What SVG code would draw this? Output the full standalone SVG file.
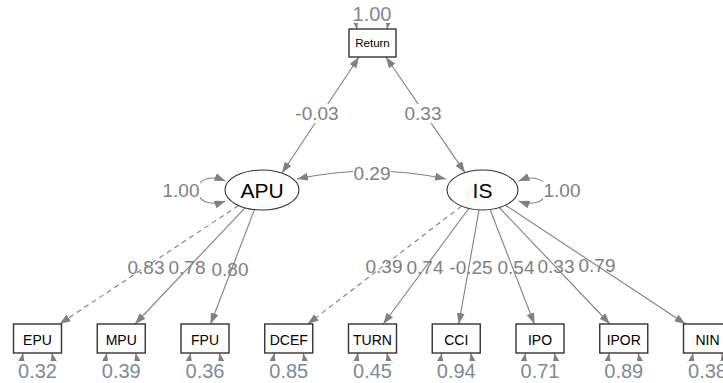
<svg xmlns="http://www.w3.org/2000/svg" width="723" height="383" viewBox="0 0 723 383">
<defs>
<marker id="ah" viewBox="0 0 11 8" refX="11" refY="4" markerWidth="11" markerHeight="8" markerUnits="userSpaceOnUse" orient="auto-start-reverse">
<path d="M0,0 L11,4 L0,8 z" fill="#808080"/>
</marker>
</defs>
<style>
.e{fill:none;stroke:#808080;stroke-width:1.1;marker-end:url(#ah)}
.b{marker-start:url(#ah)}
.d{stroke-dasharray:5,4}
.box{fill:#fff;stroke:#333;stroke-width:1.4}
.lat{fill:#fff;stroke:#333;stroke-width:1.1}
.bg{fill:#fff}
.t{font-family:"Liberation Sans",Arial,sans-serif;fill:#000;text-anchor:middle}
.lb{font-family:"Liberation Sans",Arial,sans-serif;fill:#808080;text-anchor:middle;font-size:19px}
.rv{fill:#7d8a99;font-size:20px}
</style>
<rect width="723" height="383" fill="#fff"/>
<g id="connectors">
<path class="e b" d="M359,57 L282,173"/>
<path class="e b" d="M386,57 L465,172.6"/>
<path class="e b" d="M297,179 Q372,163 446,179"/>
<path class="e b" d="M357,29 C352,3 392,3 387,29"/>
<path class="e b" d="M225.5,181 C188,166 188,214 225.5,201"/>
<path class="e b" d="M518.5,181 C556,166 556,214 518.5,201"/>
<path class="e d" d="M238.6,205.5 L59.5,324"/>
<path class="e" d="M245.1,207.8 L135,324"/>
<path class="e" d="M254.5,209.6 L210.6,324"/>
<path class="e d" d="M461.5,206.1 L307.7,324"/>
<path class="e" d="M468.8,208.5 L383.3,324"/>
<path class="e" d="M479,209.9 L458.8,324"/>
<path class="e" d="M490.1,209.5 L534.4,324"/>
<path class="e" d="M499.3,207.6 L609.9,324"/>
<path class="e" d="M505.5,205.2 L685.5,324"/>
<path class="e b" d="M23,353 C18,380 57,380 52,353"/>
<path class="e b" d="M106.75,353 C101.75,380 140.75,380 135.75,353"/>
<path class="e b" d="M190.5,353 C185.5,380 224.5,380 219.5,353"/>
<path class="e b" d="M274.25,353 C269.25,380 308.25,380 303.25,353"/>
<path class="e b" d="M358,353 C353,380 392,380 387,353"/>
<path class="e b" d="M441.75,353 C436.75,380 475.75,380 470.75,353"/>
<path class="e b" d="M525.5,353 C520.5,380 559.5,380 554.5,353"/>
<path class="e b" d="M609.25,353 C604.25,380 643.25,380 638.25,353"/>
<path class="e b" d="M693,353 C688,380 727,380 722,353"/>
</g>
<g id="labels">
<rect class="bg" x="351" y="5" width="42" height="18"/>
<text class="lb rv" x="372" y="21">1.00</text>
<rect class="bg" x="294" y="104" width="46" height="19"/>
<text class="lb" x="317" y="120">-0.03</text>
<rect class="bg" x="404" y="104" width="38" height="19"/>
<text class="lb" x="423" y="120">0.33</text>
<rect class="bg" x="353" y="164" width="38" height="17"/>
<text class="lb" x="372" y="180">0.29</text>
<rect class="bg" x="162" y="181" width="38" height="19"/>
<text class="lb" x="181" y="197">1.00</text>
<rect class="bg" x="543" y="181" width="38" height="19"/>
<text class="lb" x="562" y="197">1.00</text>
<text class="lb" x="146" y="274">0.83</text>
<text class="lb" x="187" y="274">0.78</text>
<text class="lb" x="230" y="276">0.80</text>
<text class="lb" x="384" y="273">0.39</text>
<text class="lb" x="425" y="274">0.74</text>
<text class="lb" x="471" y="274">-0.25</text>
<text class="lb" x="516" y="274">0.54</text>
<text class="lb" x="556" y="273">0.33</text>
<text class="lb" x="597" y="272">0.79</text>
<g class="bg">
<rect x="17.5" y="361" width="40" height="22"/>
<rect x="101.25" y="361" width="40" height="22"/>
<rect x="185" y="361" width="40" height="22"/>
<rect x="268.75" y="361" width="40" height="22"/>
<rect x="352.5" y="361" width="40" height="22"/>
<rect x="436.25" y="361" width="40" height="22"/>
<rect x="520" y="361" width="40" height="22"/>
<rect x="603.75" y="361" width="40" height="22"/>
<rect x="687.5" y="361" width="40" height="22"/>
</g>
<text class="lb rv" x="37.5" y="378">0.32</text>
<text class="lb rv" x="121.25" y="378">0.39</text>
<text class="lb rv" x="205" y="378">0.36</text>
<text class="lb rv" x="288.75" y="378">0.85</text>
<text class="lb rv" x="372.5" y="378">0.45</text>
<text class="lb rv" x="456.25" y="378">0.94</text>
<text class="lb rv" x="540" y="378">0.71</text>
<text class="lb rv" x="623.75" y="378">0.89</text>
<text class="lb rv" x="707.5" y="378">0.38</text>
</g>
<g id="Return"><rect class="box" x="349" y="29" width="47" height="28"/><text class="t" x="372.5" y="47" font-size="11.5">Return</text></g>
<g id="APU"><ellipse class="lat" cx="262" cy="190" rx="37" ry="20"/><text class="t" x="262" y="197.5" font-size="21">APU</text></g>
<g id="IS"><ellipse class="lat" cx="482.5" cy="190" rx="35.5" ry="20"/><text class="t" x="482.5" y="197.5" font-size="21">IS</text></g>
<g id="EPU"><rect class="box" x="13.5" y="324" width="48" height="29"/><text class="t" x="37.5" y="344.5" font-size="14">EPU</text></g>
<g id="MPU"><rect class="box" x="97.25" y="324" width="48" height="29"/><text class="t" x="121.25" y="344.5" font-size="14">MPU</text></g>
<g id="FPU"><rect class="box" x="181" y="324" width="48" height="29"/><text class="t" x="205" y="344.5" font-size="14">FPU</text></g>
<g id="DCEF"><rect class="box" x="264.75" y="324" width="48" height="29"/><text class="t" x="288.75" y="344.5" font-size="14">DCEF</text></g>
<g id="TURN"><rect class="box" x="348.5" y="324" width="48" height="29"/><text class="t" x="372.5" y="344.5" font-size="14">TURN</text></g>
<g id="CCI"><rect class="box" x="432.25" y="324" width="48" height="29"/><text class="t" x="456.25" y="344.5" font-size="14">CCI</text></g>
<g id="IPO"><rect class="box" x="516" y="324" width="48" height="29"/><text class="t" x="540" y="344.5" font-size="14">IPO</text></g>
<g id="IPOR"><rect class="box" x="599.75" y="324" width="48" height="29"/><text class="t" x="623.75" y="344.5" font-size="14">IPOR</text></g>
<g id="NIN"><rect class="box" x="683.5" y="324" width="48" height="29"/><text class="t" x="707.5" y="344.5" font-size="14">NIN</text></g>
</svg>
